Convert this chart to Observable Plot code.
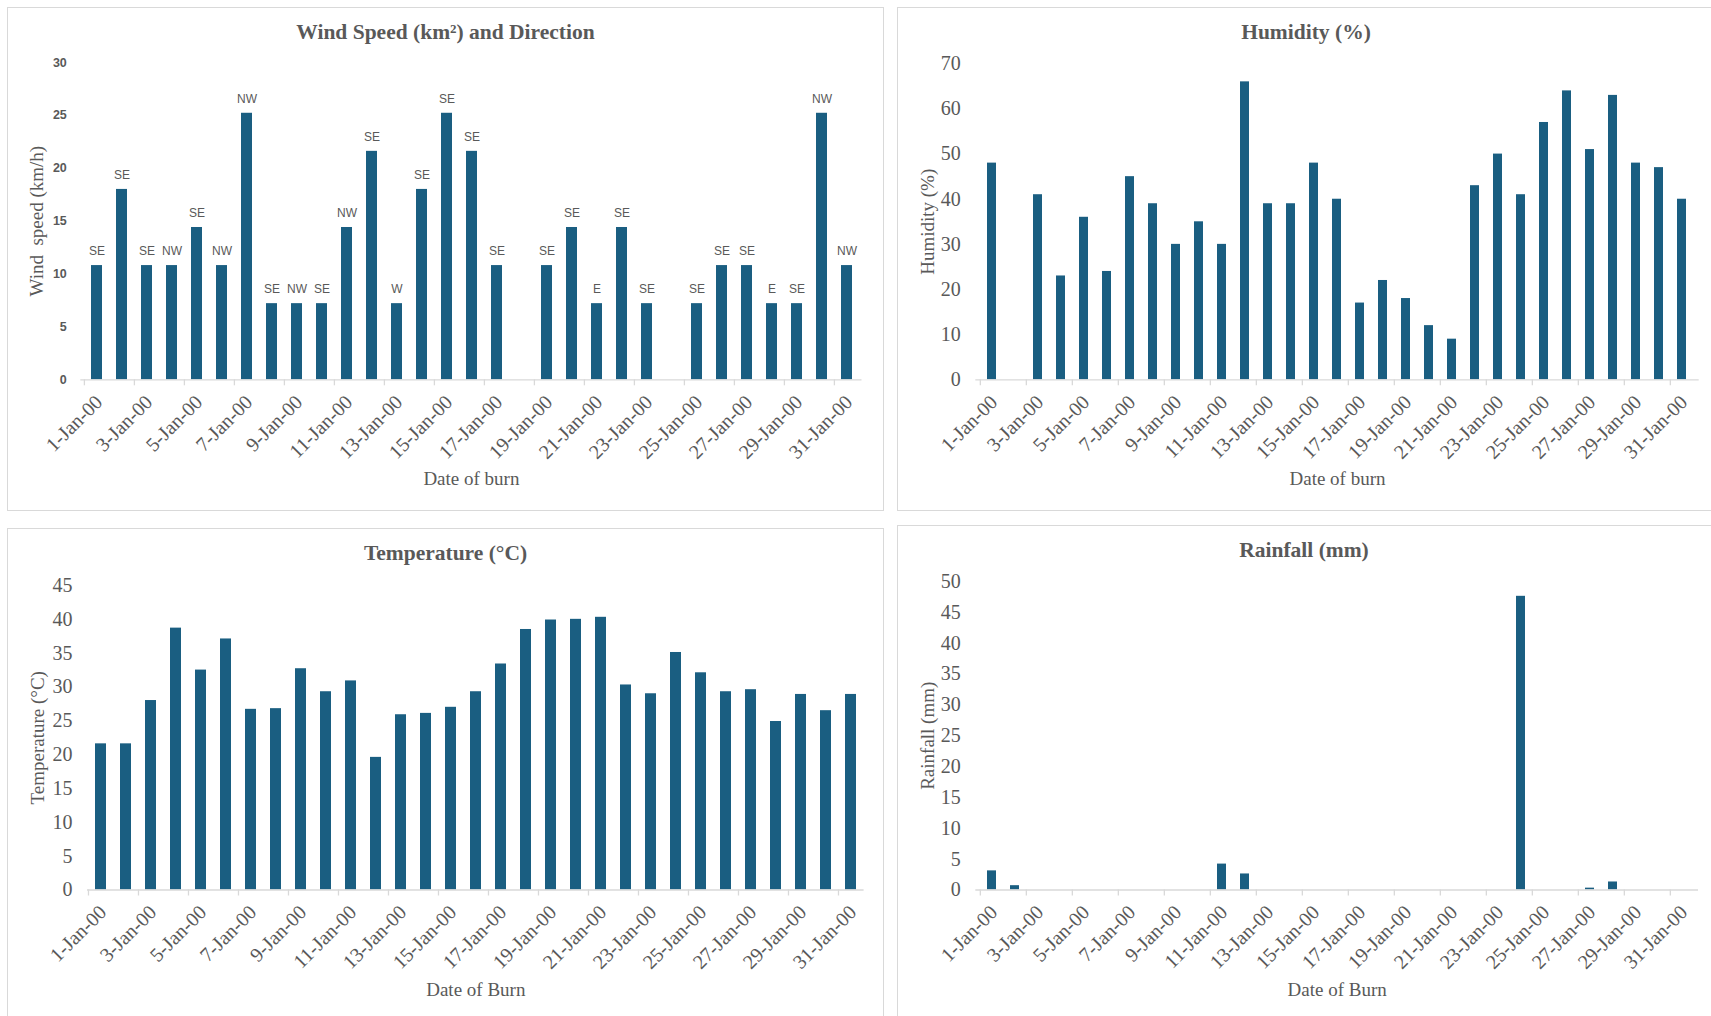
<!DOCTYPE html>
<html><head><meta charset="utf-8">
<script src="https://cdn.jsdelivr.net/npm/d3@7"></script>
<script src="https://cdn.jsdelivr.net/npm/@observablehq/plot@0.6"></script>
<style>
html,body{margin:0;padding:0;background:#fff;}
body{position:relative;width:1711px;height:1016px;overflow:hidden;}
.panel{position:absolute;box-sizing:border-box;border:1px solid #d9d9d9;}
.title{position:absolute;text-align:center;font-family:"Liberation Serif","Times New Roman",serif;font-weight:bold;font-size:21.5px;line-height:24px;color:#595959;white-space:nowrap;}
.chart{position:absolute;}
.chart svg{overflow:visible;}
</style></head><body>
<script>
// ---- data ----
const days = [1,2,3,4,5,6,7,8,9,10,11,12,13,14,15,16,17,18,19,20,21,22,23,24,25,26,27,28,29,30,31];
const tickDays = [1,3,5,7,9,11,13,15,17,19,21,23,25,27,29,31];
const tickLabels = ["1-Jan-00","3-Jan-00","5-Jan-00","7-Jan-00","9-Jan-00","11-Jan-00","13-Jan-00","15-Jan-00","17-Jan-00","19-Jan-00","21-Jan-00","23-Jan-00","25-Jan-00","27-Jan-00","29-Jan-00","31-Jan-00"];
const windSpeed = [10.8,18.0,10.8,10.8,14.4,10.8,25.2,7.2,7.2,7.2,14.4,21.6,7.2,18.0,25.2,21.6,10.8,null,10.8,14.4,7.2,14.4,7.2,null,7.2,10.8,10.8,7.2,7.2,25.2,10.8];
const windDirection = ["SE","SE","SE","NW","SE","NW","NW","SE","NW","SE","NW","SE","W","SE","SE","SE","SE",null,"SE","SE","E","SE","SE",null,"SE","SE","SE","E","SE","NW","NW"];
const humidity = [48,null,41,23,36,24,45,39,30,35,30,66,39,39,48,40,17,22,18,12,9,43,50,41,57,64,51,63,48,47,40];
const temperature = [21.6,21.6,28.0,38.7,32.5,37.1,26.7,26.8,32.7,29.3,30.9,19.6,25.9,26.1,27.0,29.3,33.4,38.5,39.9,40.0,40.3,30.3,29.0,35.1,32.1,29.3,29.6,24.9,28.9,26.5,28.9];
const rainfall = [3.1,0.7,0,0,0,0,0,0,0,0,4.2,2.6,0,0,0,0,0,0,0,0,0,0,0,47.6,0,0,0.3,1.3,0,0,0];

const titles = ["Wind Speed (km\u00b2) and Direction", "Humidity (%)", "Temperature (\u00b0C)", "Rainfall (mm)"];
const yTitles = ["Wind\u00a0 speed (km/h)", "Humidity (%)", "Temperature (\u00b0C)", "Rainfall (mm)"];
const xTitles = ["Date of burn", "Date of burn", "Date of Burn", "Date of Burn"];

// ---- styling ----
const BAR = "#1a5e81";
const GREY = "#595959";
const AXIS = "#d9d9d9";
const SERIF = "'Liberation Serif','Times New Roman',serif";
const SANS = "'Liberation Sans',Arial,sans-serif";

function addDiv(cls, css, text) {
  const d = document.createElement("div");
  d.className = cls;
  Object.assign(d.style, css);
  if (text) d.textContent = text;
  document.body.appendChild(d);
  return d;
}

// panels
addDiv("panel", {left: "7px", top: "7px", width: "877px", height: "504px"});
addDiv("panel", {left: "897px", top: "7px", width: "820px", height: "504px"});
addDiv("panel", {left: "7px", top: "528px", width: "877px", height: "500px"});
addDiv("panel", {left: "897px", top: "525px", width: "820px", height: "500px"});

addDiv("title", {left: "7px", width: "877px", top: "20px"}, titles[0]);
addDiv("title", {left: "897px", width: "818px", top: "20px"}, titles[1]);
addDiv("title", {left: "7px", width: "877px", top: "541px"}, titles[2]);
addDiv("title", {left: "897px", width: "814px", top: "538px"}, titles[3]);

function chart(cfg) {
  const {left, top, width, height, mL, mR, mT, mB, values, yMax, yStep, yTitle, xTitle,
         yTickStyle, yTickPad, yTitleDx, xTitleDy, pad, extra = []} = cfg;
  const data = days.map((d, i) => ({day: d, value: values[i]})).filter(d => d.value != null);
  const step = (width - mL - mR) / days.length;
  const svg = Plot.plot({
    width, height,
    marginLeft: mL, marginRight: mR, marginTop: mT, marginBottom: mB,
    style: {background: "transparent", overflow: "visible"},
    x: {type: "band", domain: days, paddingInner: pad, paddingOuter: pad / 2},
    y: {domain: [0, yMax]},
    marks: [
      Plot.barY(data, {x: "day", y: "value", fill: BAR}),
      Plot.ruleY([0], {stroke: AXIS, strokeWidth: 1.3}),
      Plot.axisY(d3.range(0, yMax + 0.001, yStep), {tickSize: 0, tickPadding: yTickPad, label: null, fill: GREY, ...yTickStyle}),
      Plot.axisX(tickDays, {tickSize: 6, dx: -step / 2, tickFormat: () => "", stroke: AXIS, strokeWidth: 1.3, label: null}),
      Plot.axisX(tickDays, {tickSize: 0, tickPadding: 19, dx: 2, tickRotate: -45, tickFormat: d => tickLabels[tickDays.indexOf(d)],
        fontSize: 20, fontFamily: SERIF, fill: GREY, label: null}),
      Plot.text([yTitle], {frameAnchor: "left", textAnchor: "middle", rotate: -90, dx: yTitleDx, fontSize: 19, fontFamily: SERIF, fill: GREY}),
      Plot.text([xTitle], {frameAnchor: "bottom", textAnchor: "middle", dy: xTitleDy, fontSize: 19, fontFamily: SERIF, fill: GREY}),
      ...extra
    ]
  });
  const holder = addDiv("chart", {left: left + "px", top: top + "px"});
  holder.appendChild(svg);
}

const windData = days.map((d, i) => ({day: d, value: windSpeed[i], dir: windDirection[i]})).filter(d => d.value != null);

chart({left: 7, top: 52, width: 876, height: 456, mL: 73.3, mR: 21.5, mT: 10, mB: 128.7,
  values: windSpeed, yMax: 30, yStep: 5, yTitle: yTitles[0], xTitle: xTitles[0], pad: 0.58,
  yTickStyle: {fontSize: 12.5, fontFamily: SANS, fontWeight: "bold"}, yTickPad: 14, yTitleDx: -44, xTitleDy: 105,
  extra: [Plot.text(windData, {x: "day", y: "value", text: "dir", dy: -14, fontSize: 12, fontFamily: SANS, fill: GREY})]
});
chart({left: 897, top: 52, width: 814, height: 456, mL: 78.3, mR: 12.3, mT: 11.3, mB: 128.7,
  values: humidity, yMax: 70, yStep: 10, yTitle: yTitles[1], xTitle: xTitles[1], pad: 0.6,
  yTickStyle: {fontSize: 20, fontFamily: SERIF}, yTickPad: 15, yTitleDx: -47.6, xTitleDy: 105
});
chart({left: 7, top: 573, width: 876, height: 443, mL: 80, mR: 19.4, mT: 12, mB: 126.5,
  values: temperature, yMax: 45, yStep: 5, yTitle: yTitles[2], xTitle: xTitles[2], pad: 0.57,
  yTickStyle: {fontSize: 20, fontFamily: SERIF}, yTickPad: 15, yTitleDx: -50, xTitleDy: 106
});
chart({left: 897, top: 573, width: 814, height: 443, mL: 78.3, mR: 13, mT: 8, mB: 126.5,
  values: rainfall, yMax: 50, yStep: 5, yTitle: yTitles[3], xTitle: xTitles[3], pad: 0.6,
  yTickStyle: {fontSize: 20, fontFamily: SERIF}, yTickPad: 15, yTitleDx: -47.8, xTitleDy: 106
});
</script>
</body></html>
